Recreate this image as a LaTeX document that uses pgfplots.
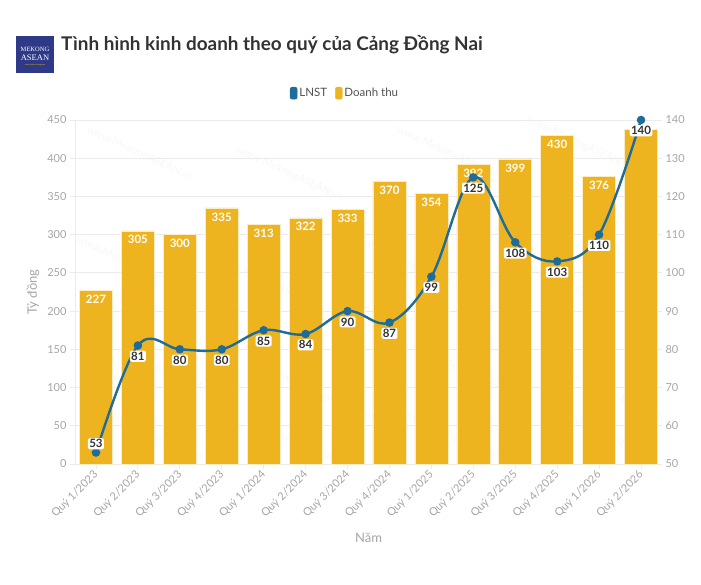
\documentclass[border=0pt]{standalone}
\usepackage{pgfplots}
\pgfplotsset{compat=1.18}
\usepackage{pgfplotstable}
\usepackage{fontspec}
\setmainfont{Lato}
\newfontfamily\logofont{Liberation Serif}
\definecolor{barc}{HTML}{EDB41F}
\definecolor{linec}{HTML}{1F6B99}
\definecolor{tickc}{HTML}{A6A6A6}
\definecolor{gridc}{HTML}{EBEBEB}
\definecolor{titlec}{HTML}{333333}
\definecolor{navy}{HTML}{2E3A87}
\pgfplotstableread{
x rev np
0 227 53
1 305 81
2 300 80
3 335 80
4 313 85
5 322 84
6 333 90
7 370 87
8 354 99
9 392 125
10 399 108
11 430 103
12 376 110
13 438 140
}\data
\begin{document}
\begin{tikzpicture}
\path[use as bounding box,fill=white] (0pt,0pt) rectangle (701pt,584pt);
% logo
\fill[navy] (16pt,511pt) rectangle (54pt,548pt);
\node[white,font=\logofont\fontsize{6.5pt}{7pt}\selectfont,inner sep=0] at (35pt,535pt) {MEKONG};
\node[white,font=\logofont\fontsize{8.5pt}{9pt}\selectfont,inner sep=0] at (35pt,526pt) {ASEAN};
\node[yellow!70!orange,font=\logofont\fontsize{2pt}{2pt}\selectfont,inner sep=0] at (35pt,519pt) {online business magazine};
% title
\node[anchor=west,inner sep=0,text=titlec,font=\bfseries\fontsize{18.9pt}{22pt}\selectfont] at (61pt,539pt) {Tình hình kinh doanh theo quý của Cảng Đồng Nai};
% watermarks (inside the plot area)
\foreach \px/\py in {140/430,290/410,450/430,580/440,130/320,270/300,410/320,560/300,170/210,320/190,470/210,610/190,150/150,300/140,450/150,600/150}{
  \node[rotate=-25,text=gray,opacity=0.06,font=\fontsize{11pt}{12pt}\selectfont] at (\px pt,\py pt) {www.MekongASEAN.vn};
}
\begin{axis}[
  at={(75pt,120pt)}, anchor=south west,
  scale only axis, width=587pt, height=344pt,
  xmin=-0.5, xmax=13.5, ymin=0, ymax=450,
  ytick={0,50,...,450},
  xtick={0,...,13},
  xticklabels={Quý 1/2023,Quý 2/2023,Quý 3/2023,Quý 4/2023,Quý 1/2024,Quý 2/2024,Quý 3/2024,Quý 4/2024,Quý 1/2025,Quý 2/2025,Quý 3/2025,Quý 4/2025,Quý 1/2026,Quý 2/2026},
  xticklabel style={rotate=45,anchor=east,font=\fontsize{11pt}{12pt}\selectfont,text=tickc,xshift=1pt,yshift=-3pt},
  yticklabel style={font=\fontsize{11pt}{12pt}\selectfont,text=tickc},
  /pgf/number format/assume math mode=true,
  axis line style={gridc},
  axis x line*=bottom, axis y line*=left,
  ymajorgrids, grid style={gridc,line width=0.8pt},
  major tick style={gridc,line width=0.8pt},
  tick align=outside, major tick length=5pt,
  ylabel={Tỷ đồng}, ylabel style={text=tickc,font=\fontsize{13pt}{14pt}\selectfont,at={(axis description cs:-0.0716,0.5)},anchor=center},
  xlabel={Năm}, xlabel style={text=tickc,font=\fontsize{13pt}{14pt}\selectfont,at={(axis description cs:0.5,0)},yshift=-66pt},
  clip=false,
]
\addplot[ybar, bar width=33pt, fill=barc, draw=white!75!barc, line width=0.6pt]
  table[x=x,y=rev]{\data};
\addplot[draw=none, mark=none, nodes near coords,
  every node near coord/.append style={anchor=north,inner sep=1pt,yshift=-3.5pt,text=white,font=\bfseries\fontsize{11.5pt}{12pt}\selectfont}]
  table[x=x,y=rev,skip coords between index={13}{14}]{\data};
\end{axis}
\begin{axis}[
  at={(75pt,120pt)}, anchor=south west,
  scale only axis, width=587pt, height=344pt,
  xmin=-0.5, xmax=13.5, ymin=50, ymax=140,
  ytick={50,60,...,140},
  axis y line*=right, axis x line=none,
  axis line style={draw=none},
  yticklabel style={font=\fontsize{11pt}{12pt}\selectfont,text=tickc},
  /pgf/number format/assume math mode=true,
  major tick style={draw=none},
  clip=false,
  legend columns=2,
  legend style={at={(axis description cs:0.46,1.078)},anchor=center,draw=none,fill=none,
    font=\fontsize{11.5pt}{12pt}\selectfont,text=titlec!85!white,
    /tikz/every even column/.append style={column sep=6pt}},
  legend image code/.code={\fill[#1,rounded corners=2pt] (0pt,-6pt) rectangle (7pt,6pt);},
]
\addlegendimage{color=linec}
\addlegendentry{LNST}
\addlegendimage{color=barc}
\addlegendentry{Doanh thu}
\addplot[forget plot, linec, line width=2.4pt, smooth, tension=0.6, mark=*, mark size=3pt, mark options={fill=linec}]
  table[x=x,y=np]{\data};
\addplot[forget plot, draw=none, mark=none, nodes near coords,
  every node near coord/.append style={anchor=north,yshift=-5pt,fill=white,rounded corners=2pt,inner sep=1.3pt,text=titlec,font=\bfseries\fontsize{11.5pt}{12pt}\selectfont}]
  table[x=x,y=np,skip coords between index={0}{1}]{\data};
\addplot[forget plot, draw=none, mark=none, nodes near coords,
  every node near coord/.append style={anchor=south,yshift=3pt,fill=white,rounded corners=2pt,inner sep=1.3pt,text=titlec,font=\bfseries\fontsize{11.5pt}{12pt}\selectfont}]
  coordinates {(0,53)};
\end{axis}
\end{tikzpicture}
\end{document}
